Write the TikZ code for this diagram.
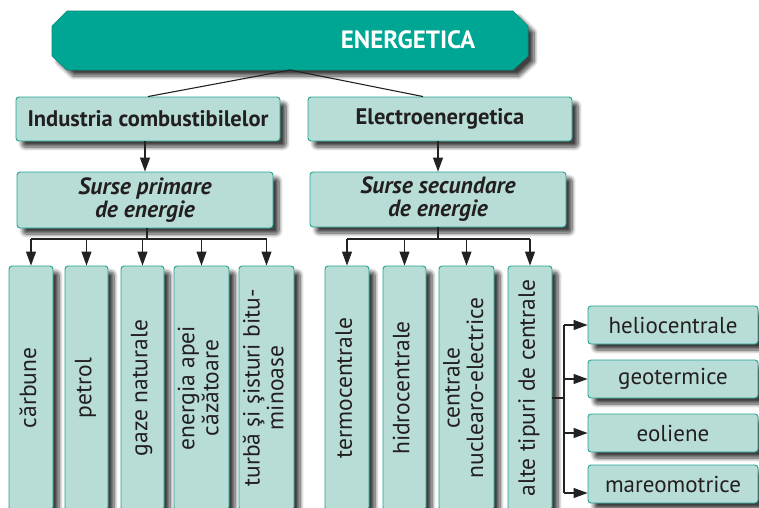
\documentclass[tikz,border=0pt]{standalone}
\usepackage{fontspec}
\setmainfont{PT Sans}
\usetikzlibrary{arrows.meta,shadows.blur,calc}
\definecolor{bannerC}{HTML}{00A694}
\definecolor{boxfillC}{HTML}{B8DDD7}
\definecolor{boxdrawC}{HTML}{22A391}
\definecolor{textC}{HTML}{231F20}
\definecolor{lineC}{HTML}{222222}
\tikzset{
  shad/.style={blur shadow={shadow xshift=6pt, shadow yshift=-6pt, shadow blur radius=4pt, shadow blur steps=8, shadow opacity=75}},
  box/.style={draw=boxdrawC, fill=boxfillC, rounded corners=3pt, line width=0.9pt, shad, text=textC, inner sep=0pt, align=center},
  hbox/.style={box, font=\fontsize{22.5}{24}\selectfont\bfseries},
  ibox/.style={box, font=\fontsize{23.5}{23}\selectfont\bfseries\itshape},
  vbox/.style={box, font=\fontsize{23.5}{23}\selectfont, minimum height=244pt},
  rbox/.style={box, font=\fontsize{23}{24}\selectfont, minimum width=170pt, minimum height=38pt},
  conn/.style={draw=lineC, line width=1.1pt},
  arr/.style={conn, -{Triangle[length=14pt,width=10pt]}}
}
\newcommand{\vtext}[1]{\rotatebox{90}{\begin{tabular}{@{}c@{}}#1\end{tabular}}}
\begin{document}
\begin{tikzpicture}[x=1pt,y=-1pt]
\useasboundingbox (0,0) rectangle (759,507);
\clip (0,0) rectangle (759,507);
% banner
\path[fill=bannerC, draw=bannerC!85!black, line width=0.6pt, shad]
  (52,26) -- (67,11) -- (513,11) -- (528,26) -- (528,56) -- (513,70) -- (67,70) -- (52,56) -- cycle;
\coordinate (bannerbot) at (290,70);
\node[text=white, font=\fontsize{25}{26}\selectfont\bfseries] (title) at (408,40) {ENERGETICA};
% level 2
\node[hbox, minimum width=264pt, minimum height=44pt] (ind) at (148,119) {Industria combustibilelor};
\node[hbox, minimum width=264pt, minimum height=44pt] (el) at (440,119) {Electroenergetica};
\draw[conn] (bannerbot) -- (ind.north);
\draw[conn] (bannerbot) -- (el.north -| 423,0);
% level 3
\node[ibox, minimum width=256pt, minimum height=56pt] (prim) at (145,200) {Surse primare\\de energie};
\node[ibox, minimum width=256pt, minimum height=55pt] (sec) at (438,199.5) {Surse secundare\\de energie};
\draw[arr] (ind.south -| prim.north) -- (prim.north);
\draw[arr] (el.south -| sec.north) -- (sec.north);
% vertical boxes
\node[vbox, minimum width=44pt] (carb) at (31,388) {\vtext{cărbune}};
\node[vbox, minimum width=43pt] (petr) at (86.5,388) {\vtext{petrol}};
\node[vbox, minimum width=43pt] (gaze) at (142.5,388) {\vtext{gaze naturale}};
\node[vbox, minimum width=55pt] (apa) at (201.5,388) {\vtext{energia apei\\căzătoare}};
\node[vbox, minimum width=55pt] (turb) at (266.5,388) {\vtext{turbă şi şisturi bitu-\\minoase}};
\node[vbox, minimum width=44pt] (term) at (347,388) {\vtext{termocentrale}};
\node[vbox, minimum width=43pt] (hidr) at (404.5,388) {\vtext{hidrocentrale}};
\node[vbox, minimum width=55pt] (nucl) at (466.5,388) {\vtext{centrale\\nuclearo-electrice}};
\node[vbox, minimum width=44pt] (alte) at (530,388) {\vtext{alte tipuri de centrale}};
% buses
\coordinate (pb) at (147,239);
\coordinate (sb) at (438,239);
\draw[conn] (prim.south -| pb) -- (pb);
\draw[conn] (carb.north |- pb) -- (turb.north |- pb);
\foreach \n in {carb,petr,gaze,apa,turb} \draw[arr] (\n.north |- pb) -- (\n.north);
\draw[conn] (sec.south) -- (sb);
\draw[conn] (term.north |- sb) -- (alte.north |- sb);
\foreach \n in {term,hidr,nucl,alte} \draw[arr] (\n.north |- sb) -- (\n.north);
% right boxes
\node[rbox] (helio) at (673,325) {heliocentrale};
\node[rbox] (geo) at (673,379) {geotermice};
\node[rbox] (eol) at (673,433) {eoliene};
\node[rbox] (mare) at (673,484) {mareomotrice};
\coordinate (rb) at (564,398);
\coordinate (mb) at (564,493);
\draw[conn] (alte.east |- rb) -- (rb);
\draw[conn] (rb |- helio) -- (mb);
\draw[arr] (rb |- helio) -- (helio.west);
\draw[arr] (rb |- geo) -- (geo.west);
\draw[arr] (rb |- eol) -- (eol.west);
\draw[arr] (mb) -- (mare.west |- mb);
\end{tikzpicture}
\end{document}
